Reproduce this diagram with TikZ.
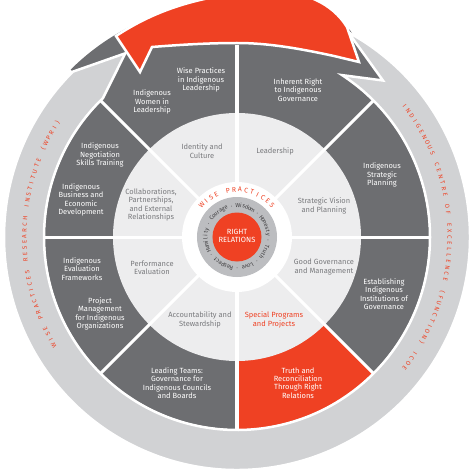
\documentclass[tikz,border=0pt]{standalone}
\usepackage{fontspec}
\setmainfont{Fira Sans}
\setsansfont{Fira Sans}
\definecolor{lg}{HTML}{D1D2D4}
\definecolor{dg}{HTML}{6D6E71}
\definecolor{ired}{HTML}{EF4123}
\definecolor{inl}{HTML}{EDEDEE}
\definecolor{cg}{HTML}{BCBDC0}
\definecolor{tg}{HTML}{7A7B7E}
\definecolor{tdark}{HTML}{414042}
\newsavebox\arcbox
% #1 name prefix, #2 baseline radius, #3 centre angle, #4 span (deg), #5 font, #6 colour, #7 list of characters
% text reads clockwise with letter tops pointing outward
\newcommand\arcfit[7]{%
  \gdef\arcsum{0}\gdef\arcn{0}%
  \foreach \ch in {#7}{%
    \sbox\arcbox{#5\ch}%
    \pgfmathsetmacro\tmp{\arcsum+\wd\arcbox}\xdef\arcsum{\tmp}%
    \pgfmathsetmacro\tmp{\arcn+1}\xdef\arcn{\tmp}%
  }%
  \pgfmathsetmacro\arcgap{(#4*pi/180*#2-\arcsum)/(\arcn-1)}\xdef\arcgap{\arcgap}%
  \pgfmathsetmacro\arcstart{#3+#4/2}\xdef\arcstart{\arcstart}%
  \gdef\arcacc{0}%
  \foreach \ch [count=\ci] in {#7}{%
    \sbox\arcbox{#5\ch}%
    \pgfmathsetmacro\ang{\arcstart-(\arcacc+0.5*\wd\arcbox)/#2*180/pi}%
    \node[rotate=\ang-90, text=#6, inner sep=0pt, anchor=base, font=#5] (#1\ci) at (\ang:#2pt) {\ch};
    \pgfmathsetmacro\tmp{\arcacc+\wd\arcbox+\arcgap}\xdef\arcacc{\tmp}%
  }%
}
\begin{document}
\begin{tikzpicture}[x=1pt,y=1pt,
  seglabel/.style={align=center, font=\fontsize{7.5}{8.3}\selectfont, text=white, inner sep=0pt},
  innerlabel/.style={align=center, font=\fontsize{7.5}{8.3}\selectfont, text=tg, inner sep=0pt},
  sepline/.style={white, line width=3pt},
  whiteedge/.style={draw=white, line width=2.5pt, line join=miter},
]
\useasboundingbox (-237,-237) rectangle (237,237);
\coordinate (C) at (0,0);

% dark band in outer ring (under the red arrow)
\fill[dg] (134.8:236pt) arc[start angle=134.8, end angle=61.5, radius=236pt]
  -- (47:214pt) -- (57:190pt) -- (57:185pt)
  arc[start angle=57, end angle=134.8, radius=185pt] -- cycle;

% dark segment ring
\fill[dg] (C) circle[radius=192pt];
\fill[ired] (C) -- (-90:192pt) arc[start angle=-90, end angle=-45, radius=192pt] -- cycle;

% light grey outer ring with arrow head and notch
\filldraw[fill=lg, whiteedge] (61.5:233pt) arc[start angle=61.5, end angle=-225.2, radius=233pt]
  -- (-238.7:215pt) -- (-226:193pt)
  arc[start angle=-226, end angle=57, radius=193pt] -- (47:214pt) -- cycle;

% red arrow
\filldraw[fill=ired, whiteedge] (-121,201) .. controls (-92,220) and (-47,243) .. (33,246)
  .. controls (68,246) and (95,234) .. (110,210) -- (122,175)
  -- (97,181) .. controls (60,189) and (30,194) .. (0,194)
  .. controls (-30,194) and (-60,192) .. (-85,190) -- (-97,165) -- cycle;

% inner light ring
\fill[inl] (C) circle[radius=124pt];
\foreach \a in {0,45,...,315} \draw[sepline] (\a:54pt) -- (\a:192pt);
\fill[white] (C) circle[radius=55pt];
\fill[cg] (C) circle[radius=40pt];
\fill[ired] (C) circle[radius=24.5pt];

% centre texts
\node[font=\fontsize{7.5}{8.6}\selectfont, text=white, align=center, inner sep=0pt] (rr) at (0,1) {RIGHT\\RELATIONS};
\arcfit{wp}{45}{90}{96}{\fontsize{6.8}{7}\selectfont}{ired}{W,I,S,E,~,P,R,A,C,T,I,C,E,S}
\arcfit{vt}{29.5}{30}{350}{\fontsize{5.8}{6}\selectfont}{tdark}{H,u,m,i,l,i,t,y,~,·,~,C,o,u,r,a,g,e,~,·,~,W,i,s,d,o,m,~,·,~,H,o,n,e,s,t,y,~,·,~,T,r,u,t,h,~,·,~,L,o,v,e,~,·,~,R,e,s,p,e,c,t,~,·}

% outer ring texts
\arcfit{wl}{210.5}{179}{63}{\fontsize{6.2}{7}\selectfont}{ired}{W,I,S,E,~,P,R,A,C,T,I,C,E,S,~,R,E,S,E,A,R,C,H,~,I,N,S,T,I,T,U,T,E,~,{(},W,P,R,I,{)}}
\arcfit{wr}{210.5}{0}{76}{\fontsize{6.2}{7}\selectfont}{ired}{I,N,D,I,G,E,N,O,U,S,~,C,E,N,T,R,E,~,O,F,~,E,X,C,E,L,L,E,N,C,E,~,{(},F,U,N,C,T,I,O,N,{)},~,I,C,O,E}

% dark segment labels
\node[seglabel] (s1) at (61,147) {Inherent Right\\to Indigenous\\Governance};
\node[seglabel] (s2) at (145,62) {Indigenous\\Strategic\\Planning};
\node[seglabel] (s3) at (147,-57) {Establishing\\Indigenous\\Institutions of\\Governance};
\node[seglabel] (s4) at (61,-146) {Truth and\\Reconciliation\\Through Right\\Relations};
\node[seglabel] (s5) at (-60,-146) {Leading Teams:\\Governance for\\Indigenous Councils\\and Boards};
\node[seglabel] (s6) at (-137,-77) {Project\\Management\\for Indigenous\\Organizations};
\node[seglabel] (s7) at (-155,-32) {Indigenous\\Evaluation\\Frameworks};
\node[seglabel] (s8) at (-156,37) {Indigenous\\Business and\\Economic\\Development};
\node[seglabel] (s9) at (-137,82) {Indigenous\\Negotiation\\Skills Training};
\node[seglabel] (s10) at (-85,135) {Indigenous\\Women in\\Leadership};
\node[seglabel] (s11) at (-36,157) {Wise Practices\\in Indigenous\\Leadership};

% inner ring labels
\node[innerlabel] (i1) at (-35,86) {Identity and\\Culture};
\node[innerlabel] (i2) at (38,86) {Leadership};
\node[innerlabel] (i3) at (87,31) {Strategic Vision\\and Planning};
\node[innerlabel] (i4) at (87,-30) {Good Governance\\and Management};
\node[innerlabel, text=ired] (i5) at (37,-83) {Special Programs\\and Projects};
\node[innerlabel] (i6) at (-37,-83) {Accountability and\\Stewardship};
\node[innerlabel] (i7) at (-85,-31) {Performance\\Evaluation};
\node[innerlabel] (i8) at (-86,32) {Collaborations,\\Partnerships,\\and External\\Relationships};
\end{tikzpicture}
\end{document}
